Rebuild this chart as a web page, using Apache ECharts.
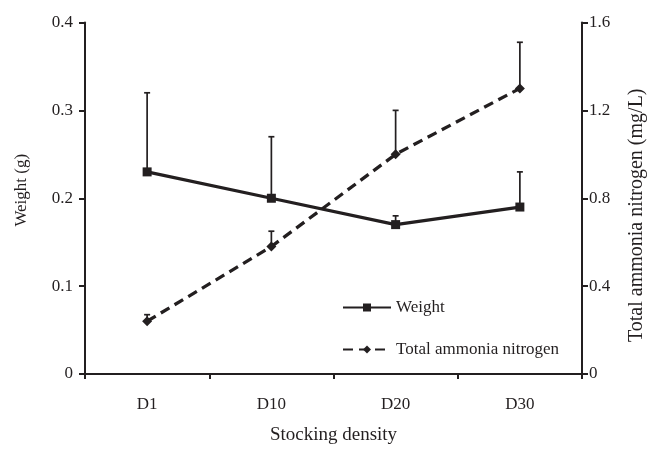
<!DOCTYPE html>
<html><head><meta charset="utf-8">
<script src="https://cdn.jsdelivr.net/npm/echarts@6/dist/echarts.min.js"></script>
<style>html,body{margin:0;padding:0;background:#fff}#c{width:655px;height:450px}</style>
</head><body><div id="c"></div>
<script>
const categories = ['D1', 'D10', 'D20', 'D30'];
const weight = [0.23, 0.20, 0.17, 0.19];
const weightUpper = [0.32, 0.27, 0.18, 0.23];
const tan = [0.24, 0.58, 1.00, 1.30];
const tanUpper = [0.27, 0.65, 1.20, 1.51];
const leftTicks = [0, 0.1, 0.2, 0.3, 0.4];
const rightTicks = [0, 0.4, 0.8, 1.2, 1.6];

const INK = '#231f20';
const FONT = '"Liberation Serif", "Times New Roman", serif';

function errData(vals, upp) { return vals.map((v, i) => [i, v, upp[i]]); }
function errRender(params, api) {
  const base = api.coord([api.value(0), api.value(1)]);
  const top = api.coord([api.value(0), api.value(2)]);
  const hw = 3;
  return {
    type: 'group',
    children: [
      { type: 'line', shape: { x1: base[0], y1: base[1], x2: top[0], y2: top[1] }, style: { stroke: INK, lineWidth: 1.7 } },
      { type: 'line', shape: { x1: top[0] - hw, y1: top[1], x2: top[0] + hw, y2: top[1] }, style: { stroke: INK, lineWidth: 1.7 } }
    ]
  };
}

const chart = echarts.init(document.getElementById('c'), null, { renderer: 'canvas' });
chart.setOption({
  animation: false,
  backgroundColor: '#fff',
  textStyle: { fontFamily: FONT, color: INK },
  grid: { left: 85, right: 63, top: 22.5, bottom: 67.3, containLabel: false },
  legend: {
    orient: 'vertical', left: 342, top: 299, padding: 0, itemGap: 25, itemWidth: 48, itemHeight: 10,
    textStyle: { fontFamily: FONT, fontSize: 17, color: INK },
    data: ['Weight', 'Total ammonia nitrogen']
  },
  xAxis: {
    type: 'category', data: categories, boundaryGap: true,
    name: 'Stocking density', nameLocation: 'middle', nameGap: 52,
    nameTextStyle: { fontFamily: FONT, fontSize: 19, color: INK },
    axisLine: { lineStyle: { color: INK, width: 2 } },
    axisTick: { show: true, length: 5, lineStyle: { color: INK, width: 2 } },
    axisLabel: { fontFamily: FONT, fontSize: 17, color: INK, margin: 22 },
    splitLine: { show: false }
  },
  yAxis: [
    {
      type: 'value', min: leftTicks[0], max: leftTicks[leftTicks.length - 1], interval: 0.1,
      name: 'Weight (g)', nameLocation: 'middle', nameGap: 55, nameRotate: 90,
      nameTextStyle: { fontFamily: FONT, fontSize: 17, color: INK, padding: [0, 0, 0, 16] },
      axisLine: { show: true, lineStyle: { color: INK, width: 2 } },
      axisTick: { show: true, length: 6, lineStyle: { color: INK, width: 2 } },
      axisLabel: { fontFamily: FONT, fontSize: 17, color: INK, margin: 12, formatter: v => String(+v.toFixed(1)) },
      splitLine: { show: false }
    },
    {
      type: 'value', min: rightTicks[0], max: rightTicks[rightTicks.length - 1], interval: 0.4,
      name: 'Total ammonia nitrogen (mg/L)', nameLocation: 'middle', nameGap: 45, nameRotate: 90,
      nameTextStyle: { fontFamily: FONT, fontSize: 20, color: INK, padding: [0, 0, 0, -34] },
      position: 'right',
      axisLine: { show: true, lineStyle: { color: INK, width: 2 } },
      axisTick: { show: true, length: 6, lineStyle: { color: INK, width: 2 } },
      axisLabel: { fontFamily: FONT, fontSize: 17, color: INK, margin: 7, formatter: v => String(+v.toFixed(1)) },
      splitLine: { show: false }
    }
  ],
  series: [
    {
      name: 'WeightErr', type: 'custom', yAxisIndex: 0, z: 1,
      data: errData(weight, weightUpper), renderItem: errRender,
      encode: { x: 0, y: [1, 2] }, silent: true
    },
    {
      name: 'TANErr', type: 'custom', yAxisIndex: 1, z: 1,
      data: errData(tan, tanUpper), renderItem: errRender,
      encode: { x: 0, y: [1, 2] }, silent: true
    },
    {
      name: 'Weight', type: 'line', yAxisIndex: 0, z: 3, data: weight,
      symbol: 'rect', symbolSize: 9,
      itemStyle: { color: INK },
      lineStyle: { color: INK, width: 3.3, type: 'solid' }
    },
    {
      name: 'Total ammonia nitrogen', type: 'line', yAxisIndex: 1, z: 3, data: tan,
      symbol: 'diamond', symbolSize: [10, 10],
      itemStyle: { color: INK },
      lineStyle: { color: INK, width: 3.3, type: [10, 6] }
    }
  ]
});
</script></body></html>
